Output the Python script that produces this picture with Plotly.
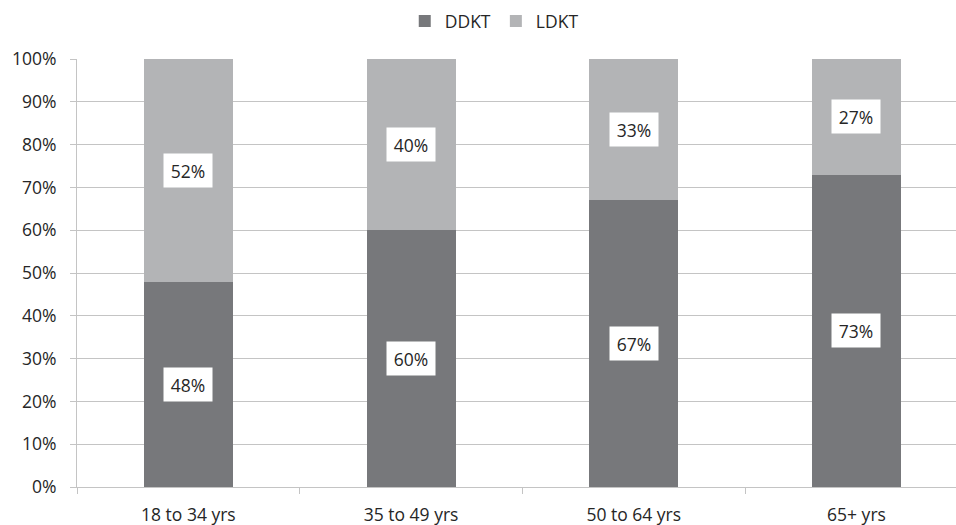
import plotly.graph_objects as go

# Share of kidney transplants by recipient age group
age_groups = ["18 to 34 yrs", "35 to 49 yrs", "50 to 64 yrs", "65+ yrs"]
ddkt = [48, 60, 67, 73]
ldkt = [52, 40, 33, 27]
y_ticks = [0, 10, 20, 30, 40, 50, 60, 70, 80, 90, 100]
y_tick_text = [f"{v}%" for v in y_ticks]

DARK = "#77787b"
LIGHT = "#b3b4b6"
GRID = "#c4c4c4"
TEXT = "#262626"
FONT = "Open Sans, Liberation Sans, sans-serif"
SIZE = 17.5

fig = go.Figure()
fig.add_trace(go.Bar(name="DDKT", x=age_groups, y=ddkt, marker_color=DARK,
                     marker_line_width=0, width=0.4))
fig.add_trace(go.Bar(name="LDKT", x=age_groups, y=ldkt, marker_color=LIGHT,
                     marker_line_width=0, width=0.4))

# value labels in white boxes at the middle of each segment
for cat, d, l in zip(age_groups, ddkt, ldkt):
    for base, val in ((0, d), (d, l)):
        fig.add_annotation(x=cat, y=base + val / 2, text=f"{val}%",
                           showarrow=False, bgcolor="white",
                           width=46, height=31,
                           font=dict(family=FONT, size=SIZE, color=TEXT))

fig.update_layout(
    barmode="stack",
    width=956, height=525,
    margin=dict(l=77, r=0, t=59, b=38),
    paper_bgcolor="white", plot_bgcolor="white",
    font=dict(family=FONT, size=SIZE, color=TEXT),
    legend=dict(orientation="h", xref="container", yref="container",
                x=0.517, xanchor="center", y=0.96, yanchor="middle",
                traceorder="normal",
                font=dict(family=FONT, size=SIZE, color=TEXT),
                itemwidth=30, tracegroupgap=0),
    xaxis=dict(range=[-0.5, 3.447], showgrid=False, showline=True,
               linecolor=GRID, linewidth=1, ticks="outside",
               tickson="boundaries", ticklen=6, tickcolor=GRID,
               ticklabelstandoff=12,
               tickfont=dict(family=FONT, size=SIZE, color=TEXT)),
    yaxis=dict(range=[0, 100], tickvals=y_ticks, ticktext=y_tick_text,
               showgrid=True, gridcolor=GRID, gridwidth=1,
               showline=True, linecolor=GRID, linewidth=1,
               ticks="outside", ticklen=6, tickcolor=GRID,
               ticklabelstandoff=10, zeroline=False,
               tickfont=dict(family=FONT, size=SIZE, color=TEXT)),
    showlegend=True,
)

fig.write_html("out.html")
